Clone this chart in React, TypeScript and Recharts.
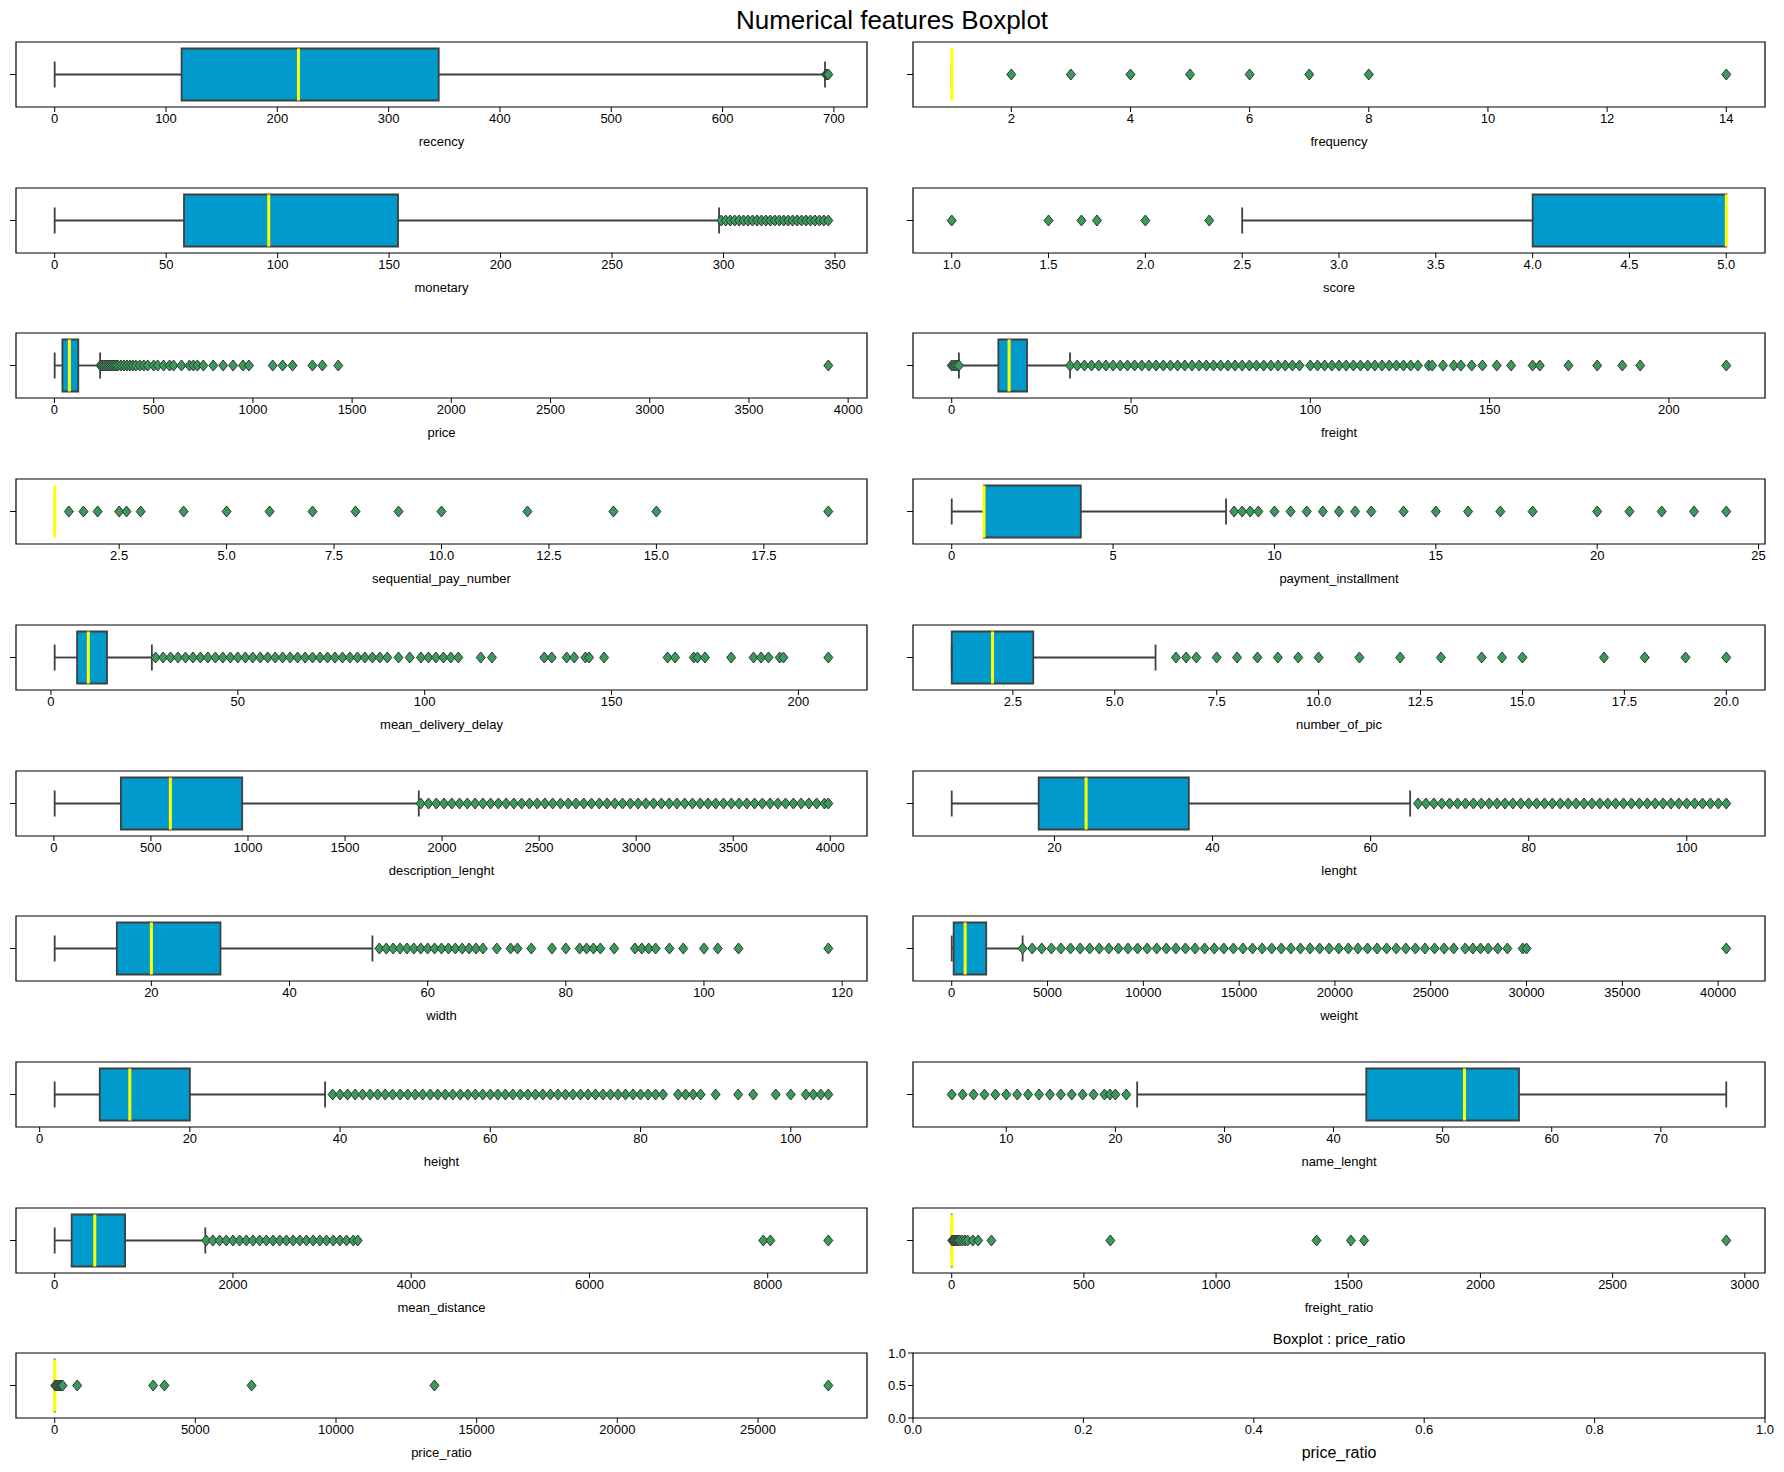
import React from "react";
import {
  ComposedChart,
  XAxis,
  YAxis,
  Scatter,
  ReferenceArea,
  ReferenceLine,
} from "recharts";

// box stats: [whiskerLow, q1, median, q3, whiskerHigh]
const recencyBox = [0, 114, 219, 345, 692];
const recencyOut = [693, 694, 695];
const frequencyBox = [1, 1, 1, 1, 1];
const frequencyOut = [2, 3, 4, 5, 6, 7, 8, 14];
const monetaryBox = [0, 58, 96, 154, 298];
const monetaryOut = [299, 301, 303, 305, 307, 309, 311, 313, 315, 317, 319, 321, 323, 325, 327, 329, 331, 333, 335, 337, 339, 341, 343, 345, 347];
const scoreBox = [2.5, 4, 5, 5, 5];
const scoreOut = [1, 1.5, 1.67, 1.75, 2, 2.33];
const priceBox = [1, 40, 75, 120, 230];
const priceOut = [232, 240, 250, 260, 270, 280, 290, 300, 310, 320, 335, 350, 365, 380, 395, 410, 430, 450, 470, 500, 520, 550, 580, 600, 640, 680, 700, 720, 750, 800, 850, 900, 950, 980, 1100, 1150, 1200, 1300, 1350, 1430, 3900];
const freightBox = [2, 13, 16, 21, 33];
const freightOut = [0, 0.5, 1, 1.5, 2, 33, 35, 37, 39, 41, 43, 45, 47, 49, 51, 53, 55, 57, 59, 61, 63, 65, 67, 69, 71, 73, 75, 77, 79, 81, 83, 85, 87, 89, 91, 93, 95, 97, 100, 102, 104, 106, 108, 110, 112, 114, 116, 118, 120, 122, 124, 126, 128, 130, 133, 134, 137, 140, 142, 145, 148, 152, 156, 162, 164, 172, 180, 187, 192, 216];
const seqBox = [1, 1, 1, 1, 1];
const seqOut = [1.33, 1.67, 2, 2.5, 2.67, 3, 4, 5, 6, 7, 8, 9, 10, 12, 14, 15, 19];
const instBox = [0, 1, 1, 4, 8.5];
const instOut = [8.75, 9, 9.25, 9.5, 10, 10.5, 11, 11.5, 12, 12.5, 13, 14, 15, 16, 17, 18, 20, 21, 22, 23, 24];
const delayBox = [1, 7, 10, 15, 27];
const delayOut = [28, 30, 32, 34, 36, 38, 40, 42, 44, 46, 48, 50, 52, 54, 56, 58, 60, 62, 64, 66, 68, 70, 72, 74, 76, 78, 80, 82, 84, 86, 88, 90, 93, 96, 99, 101, 103, 105, 107, 109, 115, 118, 132, 134, 138, 140, 143, 144, 148, 165, 167, 172, 173, 175, 182, 188, 190, 192, 195, 196, 208];
const picBox = [1, 1, 2, 3, 6];
const picOut = [6.5, 6.75, 7, 7.5, 8, 8.5, 9, 9.5, 10, 11, 12, 13, 14, 14.5, 15, 17, 18, 19, 20];
const descBox = [4, 345, 600, 970, 1880];
const descOut = [1890, 1930, 1970, 2010, 2050, 2090, 2130, 2170, 2210, 2250, 2290, 2330, 2370, 2410, 2450, 2490, 2530, 2570, 2610, 2650, 2690, 2730, 2770, 2810, 2850, 2890, 2930, 2970, 3010, 3050, 3090, 3130, 3170, 3210, 3250, 3290, 3330, 3370, 3410, 3450, 3490, 3530, 3570, 3610, 3650, 3690, 3730, 3770, 3810, 3850, 3890, 3930, 3970, 3990];
const lenBox = [7, 18, 24, 37, 65];
const lenOut = [66, 67, 68, 69, 70, 71, 72, 73, 74, 75, 76, 77, 78, 79, 80, 81, 82, 83, 84, 85, 86, 87, 88, 89, 90, 91, 92, 93, 94, 95, 96, 97, 98, 99, 100, 101, 102, 103, 104, 105];
const widthBox = [6, 15, 20, 30, 52];
const widthOut = [53, 54, 55, 56, 57, 58, 59, 60, 61, 62, 63, 64, 65, 66, 67, 68, 70, 72, 73, 75, 78, 80, 82, 83, 84, 85, 87, 90, 91, 92, 93, 95, 97, 100, 102, 105, 118];
const weightBox = [0, 100, 700, 1800, 3700];
const weightOut = [3700, 4200, 4700, 5200, 5700, 6200, 6700, 7200, 7700, 8200, 8700, 9200, 9700, 10200, 10700, 11200, 11700, 12200, 12700, 13200, 13700, 14200, 14700, 15200, 15700, 16200, 16700, 17200, 17700, 18200, 18700, 19200, 19700, 20200, 20700, 21200, 21700, 22200, 22700, 23200, 23700, 24200, 24700, 25200, 25700, 26200, 26800, 27200, 27600, 28000, 28500, 29000, 29800, 30000, 40425];
const heightBox = [2, 8, 12, 20, 38];
const heightOut = [39, 40, 41, 42, 43, 44, 45, 46, 47, 48, 49, 50, 51, 52, 53, 54, 55, 56, 57, 58, 59, 60, 61, 62, 63, 64, 65, 66, 67, 68, 69, 70, 71, 72, 73, 74, 75, 76, 77, 78, 79, 80, 81, 82, 83, 85, 86, 87, 88, 90, 93, 95, 98, 100, 102, 103, 104, 105];
const nameBox = [22, 43, 52, 57, 76];
const nameOut = [5, 6, 7, 8, 9, 10, 11, 12, 13, 14, 15, 16, 17, 18, 19, 19.5, 20, 21];
const distBox = [0, 190, 450, 790, 1690];
const distOut = [1700, 1775, 1850, 1925, 2000, 2075, 2150, 2225, 2300, 2375, 2450, 2525, 2600, 2675, 2750, 2825, 2900, 2975, 3050, 3125, 3200, 3275, 3350, 3400, 7950, 8030, 8680];
const fratioBox = [0, 0.1, 0.2, 0.4, 1];
const fratioOut = [2, 5, 10, 15, 20, 25, 30, 40, 50, 60, 80, 100, 150, 600, 1380, 1510, 1560, 2930];
const pratioBox = [0, 0.5, 1, 2, 5];
const pratioOut = [20, 50, 100, 150, 200, 250, 280, 800, 3500, 3900, 7000, 13500, 27500];

const recencyTicks = [0, 100, 200, 300, 400, 500, 600, 700];
const frequencyTicks = [2, 4, 6, 8, 10, 12, 14];
const monetaryTicks = [0, 50, 100, 150, 200, 250, 300, 350];
const scoreTicks = [1, 1.5, 2, 2.5, 3, 3.5, 4, 4.5, 5];
const priceTicks = [0, 500, 1000, 1500, 2000, 2500, 3000, 3500, 4000];
const freightTicks = [0, 50, 100, 150, 200];
const seqTicks = [2.5, 5, 7.5, 10, 12.5, 15, 17.5];
const instTicks = [0, 5, 10, 15, 20, 25];
const delayTicks = [0, 50, 100, 150, 200];
const picTicks = [2.5, 5, 7.5, 10, 12.5, 15, 17.5, 20];
const descTicks = [0, 500, 1000, 1500, 2000, 2500, 3000, 3500, 4000];
const lenTicks = [20, 40, 60, 80, 100];
const widthTicks = [20, 40, 60, 80, 100, 120];
const weightTicks = [0, 5000, 10000, 15000, 20000, 25000, 30000, 35000, 40000];
const heightTicks = [0, 20, 40, 60, 80, 100];
const nameTicks = [10, 20, 30, 40, 50, 60, 70];
const distTicks = [0, 2000, 4000, 6000, 8000];
const fratioTicks = [0, 500, 1000, 1500, 2000, 2500, 3000];
const pratioTicks = [0, 5000, 10000, 15000, 20000, 25000];
const emptyTicks = [0, 0.2, 0.4, 0.6, 0.8, 1];

const int = (v: number) => String(v);
const one = (v: number) => v.toFixed(1);

const panels = [
  { name: "recency", box: recencyBox, out: recencyOut, ticks: recencyTicks, fmt: int },
  { name: "frequency", box: frequencyBox, out: frequencyOut, ticks: frequencyTicks, fmt: int },
  { name: "monetary", box: monetaryBox, out: monetaryOut, ticks: monetaryTicks, fmt: int },
  { name: "score", box: scoreBox, out: scoreOut, ticks: scoreTicks, fmt: one },
  { name: "price", box: priceBox, out: priceOut, ticks: priceTicks, fmt: int },
  { name: "freight", box: freightBox, out: freightOut, ticks: freightTicks, fmt: int },
  { name: "sequential_pay_number", box: seqBox, out: seqOut, ticks: seqTicks, fmt: one },
  { name: "payment_installment", box: instBox, out: instOut, ticks: instTicks, fmt: int },
  { name: "mean_delivery_delay", box: delayBox, out: delayOut, ticks: delayTicks, fmt: int },
  { name: "number_of_pic", box: picBox, out: picOut, ticks: picTicks, fmt: one },
  { name: "description_lenght", box: descBox, out: descOut, ticks: descTicks, fmt: int },
  { name: "lenght", box: lenBox, out: lenOut, ticks: lenTicks, fmt: int },
  { name: "width", box: widthBox, out: widthOut, ticks: widthTicks, fmt: int },
  { name: "weight", box: weightBox, out: weightOut, ticks: weightTicks, fmt: int },
  { name: "height", box: heightBox, out: heightOut, ticks: heightTicks, fmt: int },
  { name: "name_lenght", box: nameBox, out: nameOut, ticks: nameTicks, fmt: int },
  { name: "mean_distance", box: distBox, out: distOut, ticks: distTicks, fmt: int },
  { name: "freight_ratio", box: fratioBox, out: fratioOut, ticks: fratioTicks, fmt: int },
  { name: "price_ratio", box: pratioBox, out: pratioOut, ticks: pratioTicks, fmt: int },
];

const FONT = "'Liberation Sans', Arial, sans-serif";
const BOX = "#009ACD";
const EDGE = "#3f3f3f";
const PH = 65;
const COLS = [
  { left: 16, w: 851 },
  { left: 913, w: 852 },
];
const rowTop = (r: number) => 42 + 145.7 * r;

const Diamond = (p: any) => (
  <polygon
    points={`${p.cx},${p.cy - 5.5} ${p.cx + 4.5},${p.cy} ${p.cx},${p.cy + 5.5} ${p.cx - 4.5},${p.cy}`}
    fill="#3a9a5b"
    stroke="#333"
    strokeWidth={1}
  />
);

function BoxPanel({ cfg, left, top, w }: any) {
  const [lo, q1, med, q3, hi] = cfg.box;
  const all = [...cfg.box, ...cfg.out];
  const mn = Math.min(...all);
  const mx = Math.max(...all);
  const pad = (mx - mn) * 0.05;
  const d0 = mn - pad;
  const d1 = mx + pad;
  const pts = cfg.out.map((x: number) => ({ x, y: 0 }));
  const edge = { stroke: EDGE, strokeWidth: 1.8 };
  return (
    <div style={{ position: "absolute", left: left - 20, top: top - 5 }}>
      <ComposedChart width={w + 30} height={PH + 35} margin={{ top: 5, right: 10, left: 0, bottom: 0 }}>
        <XAxis
          type="number"
          dataKey="x"
          domain={[d0, d1]}
          ticks={cfg.ticks}
          tickFormatter={cfg.fmt}
          allowDataOverflow
          height={30}
          axisLine={false}
          tickLine={{ stroke: "#000" }}
          tick={{ fontSize: 13, fill: "#000", fontFamily: FONT }}
          tickSize={5}
          interval={0}
        />
        <YAxis
          type="number"
          dataKey="y"
          domain={[-0.5, 0.5]}
          ticks={[0]}
          tickFormatter={() => ""}
          width={20}
          axisLine={false}
          tickLine={{ stroke: "#000" }}
        />
        <ReferenceLine segment={[{ x: lo, y: 0 }, { x: q1, y: 0 }]} {...edge} />
        <ReferenceLine segment={[{ x: q3, y: 0 }, { x: hi, y: 0 }]} {...edge} />
        <ReferenceLine segment={[{ x: lo, y: -0.2 }, { x: lo, y: 0.2 }]} {...edge} />
        <ReferenceLine segment={[{ x: hi, y: -0.2 }, { x: hi, y: 0.2 }]} {...edge} />
        <ReferenceArea x1={q1} x2={q3} y1={-0.4} y2={0.4} fill={BOX} fillOpacity={1} {...edge} />
        <ReferenceLine segment={[{ x: med, y: -0.4 }, { x: med, y: 0.4 }]} stroke="#ffff00" strokeWidth={3} />
        <Scatter data={pts} shape={Diamond} isAnimationActive={false} />
        <ReferenceArea x1={d0} x2={d1} y1={-0.5} y2={0.5} fill="none" stroke="#000" strokeWidth={1.2} />
      </ComposedChart>
    </div>
  );
}

function EmptyPanel({ left, top, w }: any) {
  return (
    <div style={{ position: "absolute", left: left - 34, top: top - 5 }}>
      <ComposedChart width={w + 50} height={PH + 35} margin={{ top: 5, right: 16, left: 0, bottom: 0 }}>
        <XAxis
          type="number"
          dataKey="x"
          domain={[0, 1]}
          ticks={emptyTicks}
          tickFormatter={one}
          height={30}
          axisLine={false}
          tickLine={{ stroke: "#000" }}
          tick={{ fontSize: 13, fill: "#000", fontFamily: FONT }}
          tickSize={5}
          interval={0}
        />
        <YAxis
          type="number"
          dataKey="y"
          domain={[0, 1]}
          ticks={[0, 0.5, 1]}
          tickFormatter={one}
          width={34}
          axisLine={false}
          tickLine={{ stroke: "#000" }}
          tick={{ fontSize: 13, fill: "#000", fontFamily: FONT }}
          tickSize={5}
          interval={0}
        />
        <Scatter data={[{ x: 0.5, y: 0.5 }]} shape={() => <g />} isAnimationActive={false} />
        <ReferenceArea x1={0} x2={1} y1={0} y2={1} fill="none" stroke="#000" strokeWidth={1.2} />
      </ComposedChart>
    </div>
  );
}

export default function App() {
  const label = (text: string, cx: number, y: number, size = 13) => (
    <div
      key={text + y}
      style={{ position: "absolute", left: cx - 200, width: 400, top: y, textAlign: "center", fontSize: size, fontFamily: FONT }}
    >
      {text}
    </div>
  );
  return (
    <div style={{ position: "absolute", left: 0, top: 0, width: 1784, height: 1472, background: "#fff", fontFamily: FONT }}>
      {label("Numerical features Boxplot", 892, 5, 26)}
      {panels.map((cfg, i) => {
        const c = COLS[i % 2];
        const top = rowTop(Math.floor(i / 2));
        return (
          <React.Fragment key={cfg.name}>
            <BoxPanel cfg={cfg} left={c.left} top={top} w={c.w} />
            {label(cfg.name, c.left + c.w / 2, top + PH + 27)}
          </React.Fragment>
        );
      })}
      <EmptyPanel left={COLS[1].left} top={rowTop(9)} w={COLS[1].w} />
      {label("Boxplot : price_ratio", COLS[1].left + COLS[1].w / 2, rowTop(9) - 23, 15)}
      {label("price_ratio", COLS[1].left + COLS[1].w / 2, rowTop(9) + PH + 26, 16)}
    </div>
  );
}
